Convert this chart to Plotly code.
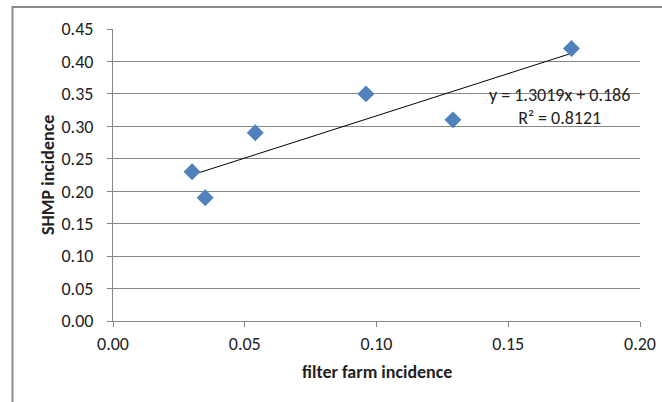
import plotly.graph_objects as go

# Data
filter_farm = [0.030, 0.035, 0.054, 0.096, 0.129, 0.174]
shmp = [0.23, 0.19, 0.29, 0.35, 0.31, 0.42]
slope = 1.3019
intercept = 0.186
r2 = 0.8121
x_ticks = [0.00, 0.05, 0.10, 0.15, 0.20]
y_ticks = [0.00, 0.05, 0.10, 0.15, 0.20, 0.25, 0.30, 0.35, 0.40, 0.45]
x_title = "filter farm incidence"
y_title = "SHMP incidence"

FONT = "Carlito, 'Liberation Sans Narrow', 'Arial Narrow', Roboto, sans-serif"
TXT = "#222222"

x_min, x_max = min(filter_farm), max(filter_farm)
trend_x = [x_min, x_max]
trend_y = [slope * v + intercept for v in trend_x]

fig = go.Figure()
fig.add_trace(go.Scatter(
    x=trend_x, y=trend_y, mode="lines",
    line=dict(color="#000000", width=1), showlegend=False, hoverinfo="skip"))
fig.add_trace(go.Scatter(
    x=filter_farm, y=shmp, mode="markers",
    marker=dict(symbol="diamond", size=13, color="#4F81BD"),
    showlegend=False))

fig.add_annotation(
    x=0.1696, y=0.331, xref="x", yref="y",
    text=f"y = {slope}x + {intercept}<br>R² = {r2}",
    showarrow=False, align="center",
    font=dict(family=FONT, size=18, color=TXT))

# axis titles
fig.add_annotation(
    x=0.501, y=-0.1747, xref="paper", yref="paper",
    xanchor="center", yanchor="middle", showarrow=False,
    text=f"<b>{x_title}</b>", font=dict(family=FONT, size=18, color=TXT))
fig.add_annotation(
    x=-0.1233, y=0.5, xref="paper", yref="paper",
    xanchor="center", yanchor="middle", showarrow=False, textangle=-90,
    text=f"<b>{y_title}</b>", font=dict(family=FONT, size=18, color=TXT))

# outer chart border
fig.add_shape(type="rect", xref="paper", yref="paper",
              x0=-0.1907, x1=1.08, y0=-0.35, y1=1.075,
              line=dict(color="#8c8c8c", width=2), fillcolor="rgba(0,0,0,0)",
              layer="below")

fig.update_layout(
    width=662, height=402,
    margin=dict(l=113, r=22, t=29, b=81),
    plot_bgcolor="white", paper_bgcolor="white",
    font=dict(family=FONT, size=18, color=TXT),
    xaxis=dict(
        range=[0, 0.2], tickvals=x_ticks, ticktext=[f"{v:.2f}" for v in x_ticks],
        showgrid=False, zeroline=False, automargin=False,
        showline=True, linecolor="#868686", linewidth=1,
        ticks="outside", ticklen=5, tickcolor="#868686",
        ticklabelstandoff=1,
    ),
    yaxis=dict(
        range=[0, 0.45], tickvals=y_ticks, ticktext=[f"{v:.2f}" for v in y_ticks],
        showgrid=True, gridcolor="#868686", gridwidth=1, zeroline=False,
        automargin=False,
        showline=True, linecolor="#868686", linewidth=1,
        ticks="outside", ticklen=5, tickcolor="#868686",
        ticklabelstandoff=10,
    ),
)

fig.write_html(
    "out.html",
    config={"displayModeBar": False},
    post_script="document.body.style.margin='0';document.body.style.overflow='hidden';",
)
